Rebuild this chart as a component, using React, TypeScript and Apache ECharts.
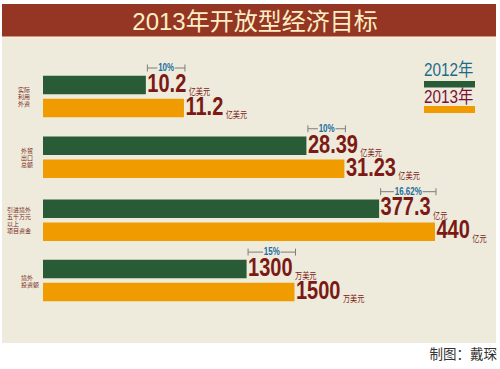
import React, { useEffect, useRef } from 'react';
import * as echarts from 'echarts';

const categories = ['实际\n利用\n外资', '外贸\n出口\n总额', '引进境外\n五千万元\n以上\n项目资金', '境外\n投资额'];
const values2012 = [10.2, 28.39, 377.3, 1300];
const values2013 = [11.2, 31.23, 440, 1500];
const units = ['亿美元', '亿美元', '亿元', '万美元'];
const growth = ['10%', '10%', '16.62%', '15%'];
const axisMin = [7.5, 8.7, 0, 450];
const axisMax = [18, 38.6, 449, 2120];
const seriesNames = ['2012年', '2013年'];
const titleText = '2013年开放型经济目标';
const creditText = '制图：戴琛';

const GREEN = '#2a5b37';
const ORANGE = '#f09c00';
const NUM = '#7b1a14';
const BG = '#eeebdc';
const LIB = 'Liberation Sans, Arial, sans-serif';
const CJK = 'Noto Sans CJK SC, sans-serif';
const MIX = 'Liberation Sans, Noto Sans CJK SC, sans-serif';

const gridTops = [74, 134.75, 197.7, 258.1];
const labelMargins = [25, 22, 36, 22];
const labelPadBottom = [2, 0, 8, 0];
const BAR_W = 18.5;
const BAR_GAP = 4.5;

export default function App() {
  const ref = useRef<HTMLDivElement>(null);
  useEffect(() => {
    if (!ref.current) return;
    const chart = echarts.init(ref.current, null, { renderer: 'svg' });
    const grids = gridTops.map((t) => ({ left: 43, width: 400, top: t, height: 45 }));
    const xAxis = gridTops.map((_, i) => ({
      gridIndex: i, type: 'value', min: axisMin[i], max: axisMax[i], show: false,
    }));
    const yAxis = gridTops.map((_, i) => ({
      gridIndex: i, type: 'category', data: [categories[i]], inverse: true,
      axisLine: { show: false }, axisTick: { show: false }, splitLine: { show: false },
      axisLabel: {
        align: 'left', margin: labelMargins[i], fontSize: 6, lineHeight: 7,
        padding: [0, 0, labelPadBottom[i], 0],
        color: '#7a2a20', fontFamily: CJK,
      },
    }));
    const series: any[] = [];
    gridTops.forEach((_, i) => {
      [values2012, values2013].forEach((vals, k) => {
        series.push({
          type: 'bar', name: seriesNames[k], xAxisIndex: i, yAxisIndex: i,
          data: [vals[i]], barWidth: BAR_W, barGap: (BAR_GAP / BAR_W * 100).toFixed(1) + '%',
          itemStyle: { color: k === 0 ? GREEN : ORANGE },
        });
      });
      series.push({
        type: 'custom', xAxisIndex: i, yAxisIndex: i,
        encode: { x: [0, 1], y: 2 },
        data: [[values2012[i], values2013[i], 0]],
        z: 5,
        renderItem: (params: any, api: any) => {
          const v1 = api.value(0);
          const v2 = api.value(1);
          const p1 = api.coord([v1, api.value(2)]);
          const p2 = api.coord([v2, api.value(2)]);
          const off = (BAR_W + BAR_GAP) / 2;
          const yG = p1[1] - off;
          const yO = p1[1] + off;
          const x1 = p1[0] + 1.5;
          const x2 = p2[0] + 1;
          const y = p1[1] - 28.5;
          const ls = { stroke: '#7d7d7d', lineWidth: 1 };
          const rich = {
            v: { fontFamily: LIB, fontWeight: 'bold', fontSize: 25, fill: NUM, lineHeight: 24 },
            u: { fontFamily: CJK, fontSize: 9, fill: NUM, padding: [0, 0, 0, 3], verticalAlign: 'bottom', lineHeight: 14 },
          };
          const numLabel = (v: number, px: number, py: number) => ({
            type: 'text', x: px + 1.5, y: py - 1.5, scaleX: 0.8,
            style: { text: `{v|${v}}{u|${units[i]}}`, rich, align: 'left', verticalAlign: 'middle' },
          });
          return {
            type: 'group',
            children: [
              { type: 'line', shape: { x1, y1: y, x2, y2: y }, style: ls },
              { type: 'line', shape: { x1, y1: y - 3.5, x2: x1, y2: y + 3.5 }, style: ls },
              { type: 'line', shape: { x1: x2, y1: y - 3.5, x2, y2: y + 3.5 }, style: ls },
              {
                type: 'text', x: (x1 + x2) / 2, y, scaleX: 0.8,
                style: {
                  text: growth[i], fill: '#1c6e9c', fontFamily: LIB, fontWeight: 'bold', fontSize: 10,
                  align: 'center', verticalAlign: 'middle', backgroundColor: BG, padding: [0, 1],
                },
              },
              numLabel(v1, p1[0], yG),
              numLabel(v2, p2[0], yO),
            ],
          };
        },
      });
    });

    chart.setOption({
      animation: false,
      grid: grids,
      xAxis,
      yAxis,
      series,
      graphic: [
        { type: 'rect', z: -10, shape: { x: 2, y: 37, width: 494, height: 306 }, style: { fill: BG } },
        { type: 'rect', z: -9, shape: { x: 2, y: 36.5, width: 494, height: 2 }, style: { fill: '#f7f0d6' } },
        { type: 'rect', z: -9, shape: { x: 2, y: 4, width: 494, height: 32.5 }, style: { fill: '#953524' } },
        {
          type: 'text', x: 255, y: 21,
          style: { text: titleText, fill: '#fcefc4', fontFamily: MIX, fontSize: 24, align: 'center', verticalAlign: 'middle' },
        },
        {
          type: 'text', x: 424, y: 70, scaleX: 0.85,
          style: { text: seriesNames[0], fill: '#1f6a8a', fontFamily: MIX, fontSize: 18, align: 'left', verticalAlign: 'middle' },
        },
        { type: 'rect', shape: { x: 424, y: 81, width: 51, height: 6.5 }, style: { fill: GREEN } },
        {
          type: 'text', x: 424, y: 97, scaleX: 0.85,
          style: { text: seriesNames[1], fill: '#7a1038', fontFamily: MIX, fontSize: 18, align: 'left', verticalAlign: 'middle' },
        },
        { type: 'rect', shape: { x: 424, y: 106, width: 51, height: 7 }, style: { fill: ORANGE } },
        {
          type: 'text', x: 497, y: 353,
          style: { text: creditText, fill: '#333333', fontFamily: CJK, fontSize: 13.5, align: 'right', verticalAlign: 'middle' },
        },
      ],
    });
    return () => chart.dispose();
  }, []);
  return <div ref={ref} style={{ position: 'fixed', left: 0, top: 0, width: 500, height: 369, background: '#ffffff' }} />;
}
